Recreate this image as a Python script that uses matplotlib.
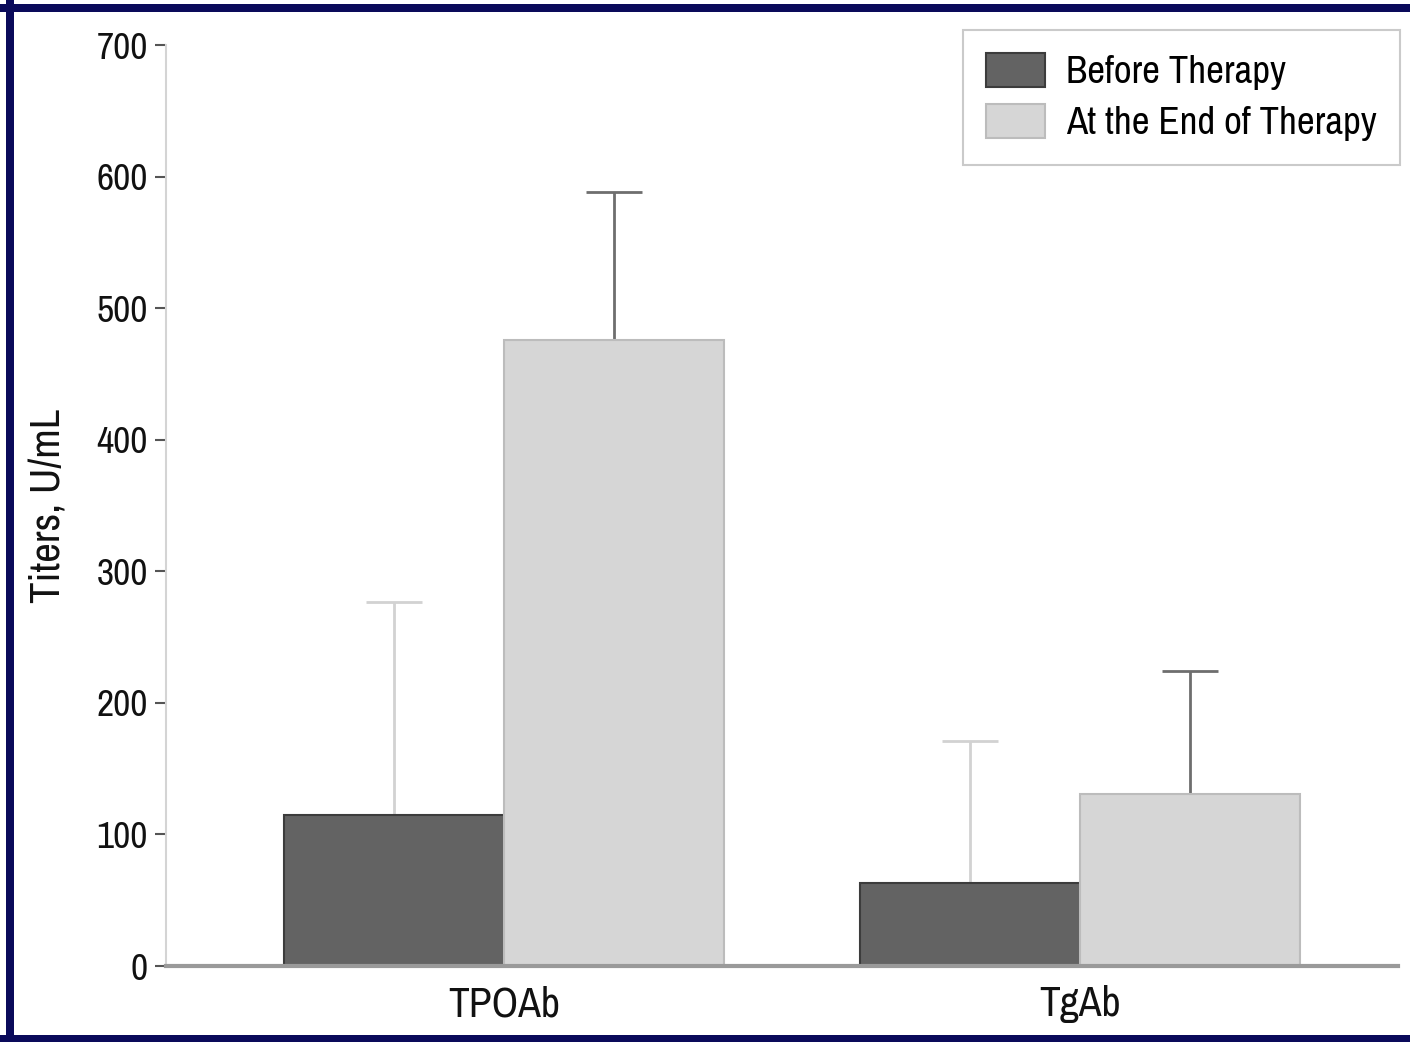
import matplotlib
matplotlib.use("Agg")
import matplotlib.pyplot as plt
from matplotlib.lines import Line2D
from matplotlib.patches import Patch
from matplotlib import font_manager
import numpy as np

categories = ["TPOAb", "TgAb"]
series_names = ["Before Therapy", "At the End of Therapy"]
before_vals = [115, 63]
after_vals = [476, 131]
before_err = [162, 108]
after_err = [112, 93]
yticks = [0, 100, 200, 300, 400, 500, 600, 700]

# prefer a condensed sans face if one is installed
narrow = None
for f in font_manager.fontManager.ttflist:
    n = f.name
    if ("Narrow" in n or "Condensed" in n) and "Bold" not in f.fname and f.weight in (400, "normal", "regular"):
        narrow = n
        break
families = ([narrow] if narrow else []) + ['Liberation Sans', 'DejaVu Sans']
plt.rcParams['font.family'] = families
if narrow is None:
    plt.rcParams['font.stretch'] = 'condensed'

W, H = 1410, 1042
fig = plt.figure(figsize=(W / 100, H / 100), dpi=100)
ax = fig.add_axes([166 / W, 1 - 966 / H, (1398 - 166) / W, (966 - 45) / H])

x = np.arange(len(categories))
bw = 0.382
dark = "#636363"
light = "#d6d6d6"

ax.bar(x - bw / 2, before_vals, bw, color=dark, edgecolor="#3c3c3c", linewidth=1.5, zorder=3)
ax.bar(x + bw / 2, after_vals, bw, color=light, edgecolor="#bcbcbc", linewidth=1.5, zorder=3)

ax.errorbar(x - bw / 2, before_vals, yerr=[np.zeros(len(x)), before_err], fmt="none",
            ecolor="#d2d2d2", elinewidth=2, capsize=20, capthick=2, zorder=2)
ax.errorbar(x + bw / 2, after_vals, yerr=[np.zeros(len(x)), after_err], fmt="none",
            ecolor="#6e6e6e", elinewidth=2, capsize=20, capthick=2, zorder=2)

ax.set_xlim(-0.587, 1.552)
ax.set_ylim(0, 700)
ax.set_yticks(yticks)
ax.set_xticks(x)
ax.set_xticklabels(categories)

for s in ["top", "right"]:
    ax.spines[s].set_visible(False)
ax.spines["left"].set_color("#d4d4d4")
ax.spines["left"].set_linewidth(1.5)
ax.spines["bottom"].set_color("#9a9a9a")
ax.spines["bottom"].set_linewidth(3)
ax.spines["bottom"].set_zorder(4)

ax.tick_params(axis="y", length=8, width=1.5, color="#555555", labelsize=27, pad=5, labelcolor="#111111")
ax.tick_params(axis="x", length=0, labelsize=30, pad=14, labelcolor="#111111")

ax.set_ylabel("Titers, U/mL", fontsize=31, color="#111111")
ax.yaxis.set_label_coords(-0.080, 0.5)

handles = [Patch(facecolor=dark, edgecolor="#3c3c3c", linewidth=1.5),
           Patch(facecolor=light, edgecolor="#bcbcbc", linewidth=1.5)]
leg = ax.legend(handles, series_names, loc="upper right",
                bbox_to_anchor=(1400 / W, 1 - 30 / H), bbox_transform=fig.transFigure,
                fontsize=28, frameon=True, fancybox=False, handlelength=1.5, handleheight=0.95,
                handletextpad=0.55, borderpad=0.6, labelspacing=0.35, borderaxespad=0)
leg.get_frame().set_edgecolor("#bdbdbd")
leg.get_frame().set_linewidth(1.5)

navy = "#0a0a5a"
lw = 8 * 72 / 100
fig.add_artist(Line2D([10 / W, 10 / W], [0, 1], transform=fig.transFigure, color=navy, lw=lw))
fig.add_artist(Line2D([0, 1], [1 - 8 / H, 1 - 8 / H], transform=fig.transFigure, color=navy, lw=lw))
fig.add_artist(Line2D([0, 1], [1 - 1039 / H, 1 - 1039 / H], transform=fig.transFigure, color=navy, lw=lw))

fig.savefig("out.png", dpi=100)
